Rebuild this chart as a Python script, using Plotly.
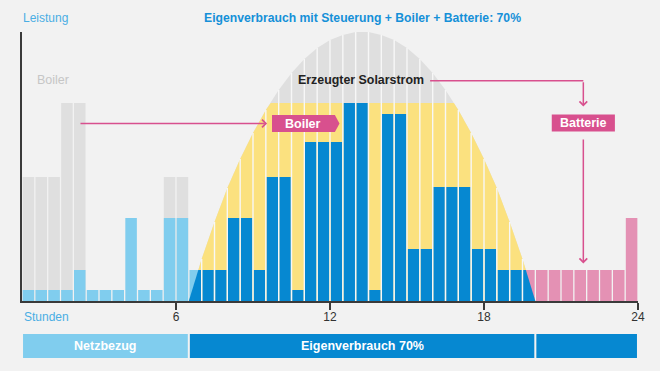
import plotly.graph_objects as go

# ---------------- data ----------------
# half-hour slots (start hour of each bar)
hours = [0, 0.5, 1, 1.5, 2, 2.5, 3, 3.5, 4, 4.5, 5, 5.5, 6, 6.5, 7, 7.5,
         8, 8.5, 9, 9.5, 10, 10.5, 11, 11.5, 12, 12.5, 13, 13.5, 14, 14.5, 15, 15.5,
         16, 16.5, 17, 17.5, 18, 18.5, 19, 19.5, 20, 20.5, 21, 21.5, 22, 22.5, 23, 23.5]

# consumption per half hour (arbitrary power units)
consumption = [1.1, 1.1, 1.1, 1.1, 3.1, 1.1, 1.1, 1.1, 8.3, 1.1, 1.1, 8.3, 8.3,
               3.1, 3.1, 3.1, 8.3, 8.3, 3.1, 12.4, 12.4, 1.1, 15.9, 15.9, 15.9, 19.8, 19.8, 1.1,
               18.7, 18.7, 5.2, 5.2, 11.4, 11.4, 11.4, 5.2, 5.2, 3.1, 3.1,
               3.1, 3.1, 3.1, 3.1, 3.1, 3.1, 3.1, 3.1, 8.3]

# where the consumed energy comes from
source = ["Netz", "Netz", "Netz", "Netz", "Netz", "Netz", "Netz", "Netz",
          "Netz", "Netz", "Netz", "Netz", "Netz", "Netz",
          "Solar", "Solar", "Solar", "Solar", "Solar", "Solar", "Solar", "Solar",
          "Solar", "Solar", "Solar", "Solar", "Solar", "Solar", "Solar", "Solar",
          "Solar", "Solar", "Solar", "Solar", "Solar", "Solar", "Solar", "Solar", "Solar",
          "Batterie", "Batterie", "Batterie", "Batterie", "Batterie",
          "Batterie", "Batterie", "Batterie", "Batterie"]

# former boiler load at night (shifted to midday)
boiler_night = [12.4, 12.4, 12.4, 19.8, 19.8, None, None, None, None, None, None, 12.4, 12.4,
                None, None, None, None, None, None, None, None, None, None, None, None, None,
                None, None, None, None, None, None, None, None, None, None, None, None, None,
                None, None, None, None, None, None, None, None, None]

# generated solar power, read at half-hour marks
solar_hours = [6.5, 7, 7.5, 8, 8.5, 9, 9.5, 10, 10.5, 11, 11.5, 12, 12.5, 13,
               13.5, 14, 14.5, 15, 15.5, 16, 16.5, 17, 17.5, 18, 18.5, 19, 19.5, 20]
solar_power = [0, 4.2, 7.9, 11.3, 14.2, 16.8, 19.1, 21.1, 22.8, 24.2, 25.3, 26.1, 26.6, 26.9,
               26.9, 26.6, 26.1, 25.3, 24.2, 22.8, 21.1, 19.1, 16.8, 14.2, 11.3, 7.9, 4.2, 0]

boiler_level = 19.8   # surplus usable by the boiler

tick_vals = [6, 12, 18, 24]
tick_text = ["6", "12", "18", "24"]

band_start = [0, 6.5, 20]
band_end = [6.5, 20, 24]
band_label = ["Netzbezug", "Eigenverbrauch 70%", ""]
band_kind = ["Netz", "Solar", "Solar"]

# ---------------- styles ----------------
BG = "#f2f2f2"
GRAY = "#dfdfdf"
YELLOW = "#fbe17f"
LIGHT = "#80cdee"
DARK = "#0688d1"
PINK_BAR = "#e491b4"
PINK = "#d8508e"
TITLE_BLUE = "#1590d8"
LABEL_BLUE = "#4aaee4"
AXIS = "#3a3a3a"
SEP = "#f7f7f7"
FONT = "Liberation Sans, Arial, sans-serif"
colors = {"Netz": LIGHT, "Solar": DARK, "Batterie": PINK_BAR}

ymax = max(solar_power)
W, H = 660, 371
ML, MR, MT, MB = 22, 22, 32, 70
plot_h = H - MT - MB


def py(pixel_y):
    """paper y from a pixel row"""
    return (H - MB - pixel_y) / plot_h


fig = go.Figure()

# solar production (grey)
fig.add_trace(go.Scatter(x=solar_hours, y=solar_power, mode="lines", line=dict(width=0),
                         fill="tozeroy", fillcolor=GRAY, yaxis="y", hoverinfo="skip"))
# part used by the boiler (yellow), clipped at boiler level by the axis domain
fig.add_trace(go.Scatter(x=solar_hours, y=solar_power, mode="lines", line=dict(width=0),
                         fill="tozeroy", fillcolor=YELLOW, yaxis="y2", hoverinfo="skip"))
# night boiler load (ghost)
fig.add_trace(go.Bar(x=hours, y=boiler_night, width=0.45, offset=0.025,
                     marker=dict(color=GRAY, line=dict(width=0)), yaxis="y3"))
for kind in ["Netz", "Solar", "Batterie"]:
    fig.add_trace(go.Bar(x=hours, y=[c if s == kind else None for c, s in zip(consumption, source)],
                         width=0.45, offset=0.025,
                         marker=dict(color=colors[kind], line=dict(width=0)), yaxis="y3"))
# solar share in the first / last partially covered slot
fig.add_trace(go.Scatter(x=solar_hours[:2], y=solar_power[:2], mode="lines", line=dict(width=0),
                         fill="tozeroy", fillcolor=DARK, yaxis="y4", hoverinfo="skip"))
fig.add_trace(go.Scatter(x=solar_hours[-2:], y=solar_power[-2:], mode="lines", line=dict(width=0),
                         fill="tozeroy", fillcolor=DARK, yaxis="y5", hoverinfo="skip"))
# white separators through the solar area
sx, sy = [], []
for h, p in zip(solar_hours, solar_power):
    sx += [h, h, None]
    sy += [0, p, None]
fig.add_trace(go.Scatter(x=sx, y=sy, mode="lines", line=dict(color=SEP, width=1.4),
                         yaxis="y6", hoverinfo="skip"))

hidden = dict(visible=False, anchor="x", showgrid=False, zeroline=False)
layout = dict(
    width=W, height=H,
    margin=dict(l=ML, r=MR, t=MT, b=MB),
    paper_bgcolor=BG, plot_bgcolor="rgba(0,0,0,0)",
    showlegend=False, barmode="overlay",
    font=dict(family=FONT, size=12, color="#333"),
    xaxis=dict(range=[0, 24], domain=[0, 1], anchor="y", showline=True, linecolor=AXIS,
               linewidth=1.5, ticks="outside", tickvals=tick_vals, ticktext=tick_text,
               ticklen=7, tickwidth=1.5, tickcolor=AXIS, showgrid=False, zeroline=False,
               ticklabelstandoff=-3, tickfont=dict(size=12, color="#333")),
    yaxis=dict(range=[0, ymax], domain=[0, 1], anchor="x", showline=True, linecolor=AXIS,
               linewidth=1.5, showticklabels=False, ticks="", showgrid=False, zeroline=False),
    yaxis2=dict(range=[0, boiler_level], domain=[0, boiler_level / ymax], **hidden),
    yaxis3=dict(range=[0, ymax], domain=[0, 1], **hidden),
    yaxis4=dict(range=[0, consumption[13]], domain=[0, consumption[13] / ymax], **hidden),
    yaxis5=dict(range=[0, consumption[39]], domain=[0, consumption[39] / ymax], **hidden),
    yaxis6=dict(range=[0, ymax], domain=[0, 1], **hidden),
)
fig.update_layout(**layout)

shapes = []
annotations = []

# bottom band
for s, e, lab, kind in zip(band_start, band_end, band_label, band_kind):
    shapes.append(dict(type="rect", xref="x", yref="paper", x0=s + 0.04, x1=e - 0.04,
                       y0=py(358), y1=py(334), fillcolor=colors[kind], line=dict(width=0),
                       layer="above"))
    if lab:
        annotations.append(dict(text=f"<b>{lab}</b>", x=(s + e) / 2, xref="x", y=py(346),
                                yref="paper", xanchor="center", yanchor="middle", showarrow=False,
                                font=dict(color="white", size=12.5, family=FONT)))

# Boiler arrow-box
bx0, bx1, btip, by0, by1 = 9.74, 12.19, 12.37, 16.9, 18.6
shapes.append(dict(type="path", xref="x", yref="y",
                   path=f"M {bx0},{by0} L {bx1},{by0} L {btip},{(by0 + by1) / 2} L {bx1},{by1} L {bx0},{by1} Z",
                   fillcolor=PINK, line=dict(width=0)))
annotations.append(dict(text="<b>Boiler</b>", x=(bx0 + bx1) / 2, y=(by0 + by1) / 2, xref="x", yref="y",
                        xanchor="center", yanchor="middle",
                        showarrow=False, font=dict(color="white", size=12.5, family=FONT)))
# Batterie box
tx0, tx1, ty0, ty1 = 20.64, 23.1, 16.95, 18.65
shapes.append(dict(type="rect", xref="x", yref="y", x0=tx0, x1=tx1, y0=ty0, y1=ty1,
                   fillcolor=PINK, line=dict(width=0)))
annotations.append(dict(text="<b>Batterie</b>", x=(tx0 + tx1) / 2, y=(ty0 + ty1) / 2, xref="x", yref="y",
                        xanchor="center", yanchor="middle",
                        showarrow=False, font=dict(color="white", size=12.5, family=FONT)))

# connectors
ax_mid = (tx0 + tx1) / 2
shapes.append(dict(type="line", xref="x", yref="y", x0=15.9, x1=ax_mid, y0=22.03, y1=22.03,
                   line=dict(color=PINK, width=1.5)))
arrow = dict(text="", showarrow=True, arrowhead=4, arrowsize=1, arrowwidth=1.5, arrowcolor=PINK,
             xref="x", yref="y", axref="x", ayref="y", standoff=0, startstandoff=0)
annotations.append(dict(arrow, x=9.55, y=17.75, ax=2.22, ay=17.75))
annotations.append(dict(arrow, x=ax_mid, y=19.45, ax=ax_mid, ay=22.03))
annotations.append(dict(arrow, x=ax_mid, y=3.75, ax=ax_mid, ay=16.3))

# texts
annotations += [
    dict(text="Leistung", x=-1 / 616, xref="paper", y=py(17.5), yref="paper", xanchor="left",
         yanchor="middle", showarrow=False, font=dict(color=LABEL_BLUE, size=12, family=FONT)),
    dict(text="<b>Eigenverbrauch mit Steuerung + Boiler + Batterie: 70%</b>", x=(362 - ML) / 616,
         xref="paper", y=py(17.5), yref="paper", xanchor="center", yanchor="middle", showarrow=False,
         font=dict(color=TITLE_BLUE, size=12.2, family=FONT)),
    dict(text="Stunden", x=0, xref="paper", y=py(316.5), yref="paper", xanchor="left",
         yanchor="middle", showarrow=False, font=dict(color=LABEL_BLUE, size=12, family=FONT)),
    dict(text="Boiler", x=1.21, xref="x", y=22.1, yref="y", showarrow=False,
         xanchor="center", yanchor="middle",
         font=dict(color="#c6c6c6", size=12.5, family=FONT)),
    dict(text="<b>Erzeugter Solarstrom</b>", x=13.2, xref="x", y=22.1, yref="y", showarrow=False,
         xanchor="center", yanchor="middle",
         font=dict(color="#222", size=12.4, family=FONT)),
]

fig.update_layout(shapes=shapes, annotations=annotations)
fig.write_html("out.html", config={"displayModeBar": False},
               post_script="document.body.style.margin='0';document.body.style.background='%s';" % BG)
